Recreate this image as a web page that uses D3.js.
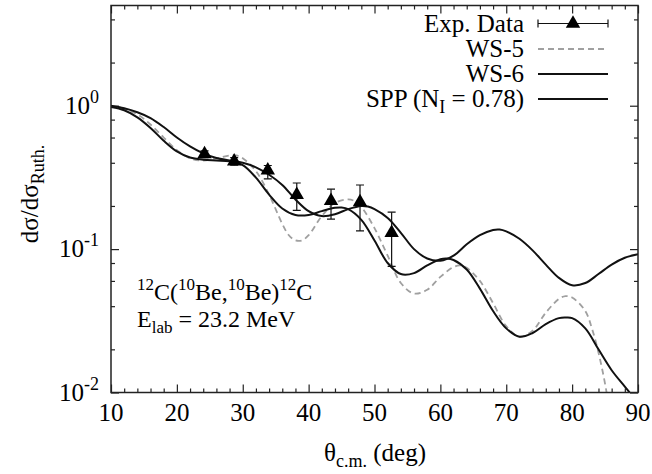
<!DOCTYPE html>
<html>
<head>
<meta charset="utf-8">
<script src="https://cdn.jsdelivr.net/npm/d3@7"></script>
<style>
  body { margin: 0; background: #fff; }
  svg text, svg tspan { font-family: "Liberation Serif", "DejaVu Serif", serif !important; fill: #000; }
</style>
</head>
<body>
<div id="chart"></div>
<script>
// experimental points
const expTheta = [24.2, 28.7, 33.8, 38.2, 43.4, 47.8, 52.6];
const expValue = [0.46, 0.41, 0.354, 0.239, 0.217, 0.213, 0.13];
const expLow   = [0.435, 0.385, 0.309, 0.186, 0.162, 0.134, 0.0757];
const expHigh  = [0.485, 0.435, 0.383, 0.289, 0.262, 0.280, 0.181];

// calculated curves
const ws5Theta = [10, 12, 14, 16, 18, 20, 22, 24, 26, 28, 29, 30, 32, 34, 36, 37, 38, 39, 40, 42, 44, 46, 47, 48, 50, 52, 54, 56, 58, 60, 62, 63, 64, 66, 68, 70, 72, 74, 76, 78, 79, 80, 82, 83, 84, 85, 86];
const ws5Value = [0.99, 0.95, 0.87, 0.74, 0.6, 0.49, 0.43, 0.415, 0.43, 0.45, 0.45, 0.43, 0.35, 0.24, 0.15, 0.125, 0.115, 0.115, 0.125, 0.17, 0.21, 0.222, 0.216, 0.197, 0.14, 0.09, 0.058, 0.049, 0.052, 0.064, 0.075, 0.077, 0.074, 0.06, 0.042, 0.029, 0.0245, 0.027, 0.036, 0.045, 0.047, 0.046, 0.037, 0.028, 0.019, 0.0115, 0.006];

const ws6Theta = [10, 12, 14, 16, 18, 20, 22, 24, 26, 28, 30, 32, 34, 36, 38, 40, 42, 44, 45, 46, 48, 50, 52, 54, 56, 58, 60, 61, 62, 64, 66, 68, 70, 72, 74, 76, 78, 79, 80, 82, 84, 86, 88, 90];
const ws6Value = [0.98, 0.93, 0.83, 0.7, 0.57, 0.48, 0.435, 0.42, 0.415, 0.41, 0.385, 0.315, 0.24, 0.192, 0.173, 0.173, 0.184, 0.194, 0.195, 0.19, 0.16, 0.115, 0.08, 0.067, 0.068, 0.077, 0.085, 0.086, 0.084, 0.072, 0.053, 0.037, 0.028, 0.0245, 0.026, 0.03, 0.033, 0.0333, 0.033, 0.028, 0.02, 0.0143, 0.011, 0.0085];

const sppTheta = [10, 12, 14, 16, 18, 20, 22, 24, 26, 28, 30, 32, 34, 36, 38, 40, 42, 44, 46, 48, 49, 50, 52, 54, 56, 58, 60, 62, 64, 66, 68, 69, 70, 72, 74, 76, 78, 80, 82, 84, 86, 88, 90];
const sppValue = [1.0, 0.96, 0.9, 0.82, 0.71, 0.6, 0.52, 0.465, 0.432, 0.415, 0.4, 0.372, 0.33, 0.28, 0.222, 0.184, 0.17, 0.175, 0.19, 0.2, 0.198, 0.19, 0.165, 0.13, 0.1, 0.086, 0.083, 0.09, 0.108, 0.125, 0.136, 0.137, 0.133, 0.118, 0.098, 0.078, 0.063, 0.056, 0.058, 0.067, 0.078, 0.087, 0.092];

const xTicks = [10, 20, 30, 40, 50, 60, 70, 80, 90];
const yTicks = [0.01, 0.1, 1];
const yTickExp = ["-2", "-1", "0"];

const width = 652;
const height = 474;
const marginLeft = 111;
const marginRight = 14;
const marginTop = 5.5;
const marginBottom = 81.5;
const serif = "'Liberation Serif', 'DejaVu Serif', serif";

const x = d3.scaleLinear()
  .domain([10, 90])
  .range([marginLeft, width - marginRight]);

const y = d3.scaleLog()
  .domain([0.01, 5])
  .range([height - marginBottom, marginTop]);

const svg = d3.select("#chart")
  .append("svg")
  .attr("width", width)
  .attr("height", height)
  .attr("viewBox", [0, 0, width, height])
  .attr("font-family", serif);

svg.append("clipPath")
  .attr("id", "plot-clip")
  .append("rect")
  .attr("x", marginLeft)
  .attr("y", marginTop)
  .attr("width", width - marginLeft - marginRight)
  .attr("height", height - marginTop - marginBottom);

// ticks pointing inward on all four sides
const xMinor = d3.range(10, 91, 2).filter(v => v % 10 !== 0);
const yMinor = [];
[0.01, 0.1, 1].forEach(d => [2, 4, 6, 8].forEach(m => { if (d * m <= 5) yMinor.push(d * m); }));

function ticks(axis, transform, values, size) {
  svg.append("g")
    .attr("transform", transform)
    .call(axis.tickValues(values).tickSize(-size).tickFormat(""))
    .call(g => g.select(".domain").remove())
    .call(g => g.selectAll(".tick line").attr("stroke", "#222").attr("stroke-width", 1.2));
}
ticks(d3.axisBottom(x), `translate(0,${height - marginBottom})`, xTicks, 8);
ticks(d3.axisBottom(x), `translate(0,${height - marginBottom})`, xMinor, 4);
ticks(d3.axisTop(x), `translate(0,${marginTop})`, xTicks, 8);
ticks(d3.axisTop(x), `translate(0,${marginTop})`, xMinor, 4);
ticks(d3.axisLeft(y), `translate(${marginLeft},0)`, yTicks, 8);
ticks(d3.axisLeft(y), `translate(${marginLeft},0)`, yMinor, 4);
ticks(d3.axisRight(y), `translate(${width - marginRight},0)`, yTicks, 8);
ticks(d3.axisRight(y), `translate(${width - marginRight},0)`, yMinor, 4);

// tick labels
svg.append("g")
  .selectAll("text")
  .data(xTicks)
  .join("text")
  .attr("x", d => x(d))
  .attr("y", height - marginBottom + 28)
  .attr("text-anchor", "middle")
  .attr("font-family", serif)
  .style("font-size", "25px")
  .text(d => d);

const yLab = svg.append("g")
  .selectAll("text")
  .data(yTicks)
  .join("text")
  .attr("x", marginLeft - 12)
  .attr("y", d => y(d) + 8)
  .attr("text-anchor", "end")
  .attr("font-family", serif)
  .style("font-size", "25px");
yLab.append("tspan").text("10");
yLab.append("tspan")
  .attr("dy", -11)
  .style("font-size", "18px")
  .text((d, i) => yTickExp[i]);

// axis titles
const xTitle = svg.append("text")
  .attr("x", 375)
  .attr("y", 461)
  .attr("text-anchor", "middle")
  .attr("font-family", serif)
  .style("font-size", "25px");
xTitle.append("tspan").text("θ");
xTitle.append("tspan").attr("dy", 6).style("font-size", "18px").text("c.m.");
xTitle.append("tspan").attr("dy", -6).text(" (deg)");

const yTitle = svg.append("text")
  .attr("transform", `translate(38,194) rotate(-90)`)
  .attr("text-anchor", "middle")
  .attr("font-family", serif)
  .style("font-size", "25px");
yTitle.append("tspan").text("dσ/dσ");
yTitle.append("tspan").attr("dy", 6).style("font-size", "18px").text("Ruth.");

// curves
const line = d3.line()
  .x(d => x(d[0]))
  .y(d => y(d[1]))
  .curve(d3.curveCatmullRom.alpha(0.5));

const plot = svg.append("g").attr("clip-path", "url(#plot-clip)");

plot.append("path")
  .datum(d3.zip(ws5Theta, ws5Value))
  .attr("fill", "none")
  .attr("stroke", "#a0a0a0")
  .attr("stroke-width", 1.8)
  .attr("stroke-dasharray", "6,4")
  .attr("d", line);

plot.append("path")
  .datum(d3.zip(ws6Theta, ws6Value))
  .attr("fill", "none")
  .attr("stroke", "#111")
  .attr("stroke-width", 2)
  .attr("d", line);

plot.append("path")
  .datum(d3.zip(sppTheta, sppValue))
  .attr("fill", "none")
  .attr("stroke", "#111")
  .attr("stroke-width", 2)
  .attr("d", line);

// experimental data with error bars
const tri = d3.symbol().type(d3.symbolTriangle).size(90);
const pts = plot.append("g")
  .selectAll("g")
  .data(expTheta.map((t, i) => ({ t, v: expValue[i], lo: expLow[i], hi: expHigh[i] })))
  .join("g");
pts.append("line")
  .attr("x1", d => x(d.t)).attr("x2", d => x(d.t))
  .attr("y1", d => y(d.lo)).attr("y2", d => y(d.hi))
  .attr("stroke", "#111").attr("stroke-width", 1.2);
pts.append("line")
  .attr("x1", d => x(d.t) - 4).attr("x2", d => x(d.t) + 4)
  .attr("y1", d => y(d.lo)).attr("y2", d => y(d.lo))
  .attr("stroke", "#111").attr("stroke-width", 1.2);
pts.append("line")
  .attr("x1", d => x(d.t) - 4).attr("x2", d => x(d.t) + 4)
  .attr("y1", d => y(d.hi)).attr("y2", d => y(d.hi))
  .attr("stroke", "#111").attr("stroke-width", 1.2);
pts.append("path")
  .attr("transform", d => `translate(${x(d.t)},${y(d.v)})`)
  .attr("d", tri)
  .attr("fill", "#000");

// frame
svg.append("rect")
  .attr("x", marginLeft)
  .attr("y", marginTop)
  .attr("width", width - marginLeft - marginRight)
  .attr("height", height - marginTop - marginBottom)
  .attr("fill", "none")
  .attr("stroke", "#222")
  .attr("stroke-width", 1.5);

// reaction label
const note1 = svg.append("text").attr("x", 137).attr("y", 300)
  .attr("font-family", serif).style("font-size", "24px");
note1.append("tspan").attr("dy", -10).style("font-size", "17px").text("12");
note1.append("tspan").attr("dy", 10).text("C(");
note1.append("tspan").attr("dy", -10).style("font-size", "17px").text("10");
note1.append("tspan").attr("dy", 10).text("Be,");
note1.append("tspan").attr("dy", -10).style("font-size", "17px").text("10");
note1.append("tspan").attr("dy", 10).text("Be)");
note1.append("tspan").attr("dy", -10).style("font-size", "17px").text("12");
note1.append("tspan").attr("dy", 10).text("C");

const note2 = svg.append("text").attr("x", 137).attr("y", 327)
  .attr("font-family", serif).style("font-size", "24px");
note2.append("tspan").text("E");
note2.append("tspan").attr("dy", 6).style("font-size", "17px").text("lab");
note2.append("tspan").attr("dy", -6).text(" = 23.2 MeV");

// legend
const legendNames = ["Exp. Data", "WS-5", "WS-6", "SPP"];
const legendY = [23.5, 49, 74, 99];
const legendX0 = 538;
const legendX1 = 608;
const legend = svg.append("g");

legendNames.forEach((name, i) => {
  const t = legend.append("text")
    .attr("x", 524)
    .attr("y", legendY[i] + 8)
    .attr("text-anchor", "end")
    .attr("font-family", serif)
    .style("font-size", "25px");
  if (name === "SPP") {
    t.append("tspan").text("SPP (N");
    t.append("tspan").attr("dy", 6).style("font-size", "18px").text("I");
    t.append("tspan").attr("dy", -6).text(" = 0.78)");
  } else {
    t.text(name);
  }
});

legend.append("line")
  .attr("x1", legendX0).attr("x2", legendX1)
  .attr("y1", legendY[0]).attr("y2", legendY[0])
  .attr("stroke", "#111").attr("stroke-width", 1.2);
[legendX0, legendX1].forEach(px => legend.append("line")
  .attr("x1", px).attr("x2", px)
  .attr("y1", legendY[0] - 4).attr("y2", legendY[0] + 4)
  .attr("stroke", "#111").attr("stroke-width", 1.2));
legend.append("path")
  .attr("transform", `translate(${(legendX0 + legendX1) / 2},${legendY[0]})`)
  .attr("d", tri)
  .attr("fill", "#000");
legend.append("line")
  .attr("x1", legendX0).attr("x2", legendX1)
  .attr("y1", legendY[1]).attr("y2", legendY[1])
  .attr("stroke", "#a0a0a0").attr("stroke-width", 1.8)
  .attr("stroke-dasharray", "6,4");
legend.append("line")
  .attr("x1", legendX0).attr("x2", legendX1)
  .attr("y1", legendY[2]).attr("y2", legendY[2])
  .attr("stroke", "#111").attr("stroke-width", 2);
legend.append("line")
  .attr("x1", legendX0).attr("x2", legendX1)
  .attr("y1", legendY[3]).attr("y2", legendY[3])
  .attr("stroke", "#111").attr("stroke-width", 2);
</script>
</body>
</html>
